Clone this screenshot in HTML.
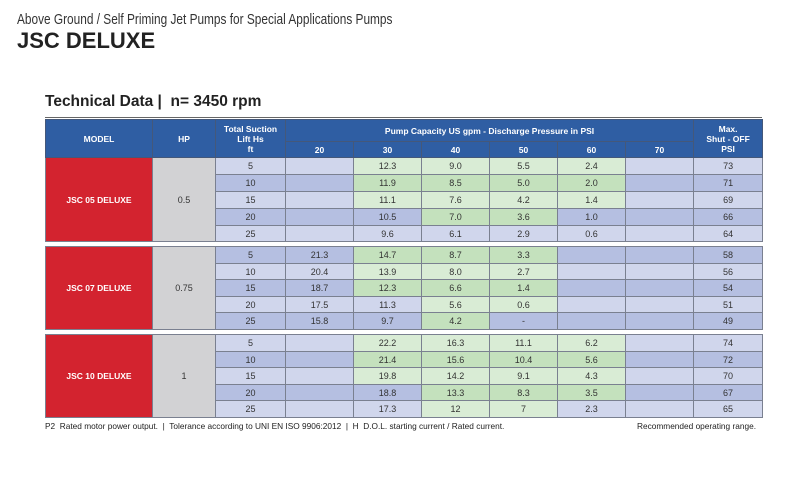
<!DOCTYPE html>
<html><head><meta charset="utf-8"><style>
body{margin:0;width:800px;height:479px;background:#fff;position:relative;overflow:hidden;font-family:"Liberation Sans",sans-serif;}
.abs{position:absolute;}
table{position:absolute;left:45px;border-collapse:collapse;table-layout:fixed;width:717px;}
td{border:1px solid #7a8090;padding:0;text-align:center;font-size:9px;color:#333;overflow:hidden;white-space:nowrap;}
.h td{background:#2f5ea3;color:#fff;font-weight:bold;font-size:8.5px;border-color:#44587a;}
.m{background:#d3232f;color:#fff;font-weight:bold;font-size:8.5px;}
.hp{background:#d2d2d4;}
.L{background:#d0d6ec;}.D{background:#b5bfe1;}
.g{background:#d9ecd5;}.G{background:#c4e1bd;}
</style></head><body>
<div class="abs" style="left:17px;top:11px;font-size:15px;color:#333;transform:scaleX(0.79);transform-origin:0 0;white-space:nowrap;">Above Ground / Self Priming Jet Pumps for Special Applications Pumps</div>
<div class="abs" style="left:17px;top:28px;font-size:22px;font-weight:bold;color:#222;">JSC DELUXE</div>
<div class="abs" style="left:45px;top:93px;font-size:15.5px;font-weight:bold;color:#222;">Technical Data |&nbsp; n= 3450 rpm</div>
<div class="abs" style="left:45px;top:117px;width:717px;height:1px;background:#666;"></div>

<table style="top:119px;">
<colgroup><col style="width:107px"><col style="width:63px"><col style="width:70px"><col style="width:68px"><col style="width:68px"><col style="width:68px"><col style="width:68px"><col style="width:68px"><col style="width:68px"><col style="width:69px"></colgroup>
<tr class="h" style="height:22px"><td rowspan="2">MODEL</td><td rowspan="2">HP</td><td rowspan="2" style="line-height:10px">Total Suction<br>Lift Hs<br>ft</td><td colspan="6">Pump Capacity US gpm - Discharge Pressure in PSI</td><td rowspan="2" style="line-height:10px">Max.<br>Shut - OFF<br>PSI</td></tr>
<tr class="h" style="height:16px"><td>20</td><td>30</td><td>40</td><td>50</td><td>60</td><td>70</td></tr>
<tr style="height:17px"><td class="m" rowspan="5">JSC 05 DELUXE</td><td class="hp" rowspan="5">0.5</td><td class="L">5</td><td class="L"></td><td class="g">12.3</td><td class="g">9.0</td><td class="g">5.5</td><td class="g">2.4</td><td class="L"></td><td class="L">73</td></tr>
<tr style="height:17px"><td class="D">10</td><td class="D"></td><td class="G">11.9</td><td class="G">8.5</td><td class="G">5.0</td><td class="G">2.0</td><td class="D"></td><td class="D">71</td></tr>
<tr style="height:17px"><td class="L">15</td><td class="L"></td><td class="g">11.1</td><td class="g">7.6</td><td class="g">4.2</td><td class="g">1.4</td><td class="L"></td><td class="L">69</td></tr>
<tr style="height:17px"><td class="D">20</td><td class="D"></td><td class="D">10.5</td><td class="G">7.0</td><td class="G">3.6</td><td class="D">1.0</td><td class="D"></td><td class="D">66</td></tr>
<tr style="height:16px"><td class="L">25</td><td class="L"></td><td class="L">9.6</td><td class="L">6.1</td><td class="L">2.9</td><td class="L">0.6</td><td class="L"></td><td class="L">64</td></tr>
</table>

<table style="top:246px;">
<colgroup><col style="width:107px"><col style="width:63px"><col style="width:70px"><col style="width:68px"><col style="width:68px"><col style="width:68px"><col style="width:68px"><col style="width:68px"><col style="width:68px"><col style="width:69px"></colgroup>
<tr style="height:17px"><td class="m" rowspan="5">JSC 07 DELUXE</td><td class="hp" rowspan="5">0.75</td><td class="D">5</td><td class="D">21.3</td><td class="G">14.7</td><td class="G">8.7</td><td class="G">3.3</td><td class="D"></td><td class="D"></td><td class="D">58</td></tr>
<tr style="height:16px"><td class="L">10</td><td class="L">20.4</td><td class="g">13.9</td><td class="g">8.0</td><td class="g">2.7</td><td class="L"></td><td class="L"></td><td class="L">56</td></tr>
<tr style="height:17px"><td class="D">15</td><td class="D">18.7</td><td class="G">12.3</td><td class="G">6.6</td><td class="G">1.4</td><td class="D"></td><td class="D"></td><td class="D">54</td></tr>
<tr style="height:16px"><td class="L">20</td><td class="L">17.5</td><td class="L">11.3</td><td class="g">5.6</td><td class="g">0.6</td><td class="L"></td><td class="L"></td><td class="L">51</td></tr>
<tr style="height:17px"><td class="D">25</td><td class="D">15.8</td><td class="D">9.7</td><td class="G">4.2</td><td class="D">-</td><td class="D"></td><td class="D"></td><td class="D">49</td></tr>
</table>

<table style="top:334px;">
<colgroup><col style="width:107px"><col style="width:63px"><col style="width:70px"><col style="width:68px"><col style="width:68px"><col style="width:68px"><col style="width:68px"><col style="width:68px"><col style="width:68px"><col style="width:69px"></colgroup>
<tr style="height:17px"><td class="m" rowspan="5">JSC 10 DELUXE</td><td class="hp" rowspan="5">1</td><td class="L">5</td><td class="L"></td><td class="g">22.2</td><td class="g">16.3</td><td class="g">11.1</td><td class="g">6.2</td><td class="L"></td><td class="L">74</td></tr>
<tr style="height:16px"><td class="D">10</td><td class="D"></td><td class="G">21.4</td><td class="G">15.6</td><td class="G">10.4</td><td class="G">5.6</td><td class="D"></td><td class="D">72</td></tr>
<tr style="height:17px"><td class="L">15</td><td class="L"></td><td class="g">19.8</td><td class="g">14.2</td><td class="g">9.1</td><td class="g">4.3</td><td class="L"></td><td class="L">70</td></tr>
<tr style="height:16px"><td class="D">20</td><td class="D"></td><td class="D">18.8</td><td class="G">13.3</td><td class="G">8.3</td><td class="G">3.5</td><td class="D"></td><td class="D">67</td></tr>
<tr style="height:17px"><td class="L">25</td><td class="L"></td><td class="L">17.3</td><td class="g">12</td><td class="g">7</td><td class="L">2.3</td><td class="L"></td><td class="L">65</td></tr>
</table>

<div class="abs" style="left:45px;top:421px;font-size:8.3px;color:#222;white-space:nowrap;">P2&nbsp; Rated motor power output.&nbsp; |&nbsp; Tolerance according to UNI EN ISO 9906:2012&nbsp; |&nbsp; H&nbsp; D.O.L. starting current / Rated current.</div>
<div class="abs" style="left:637px;top:421px;font-size:8.3px;color:#222;white-space:nowrap;">Recommended operating range.</div>
</body></html>
